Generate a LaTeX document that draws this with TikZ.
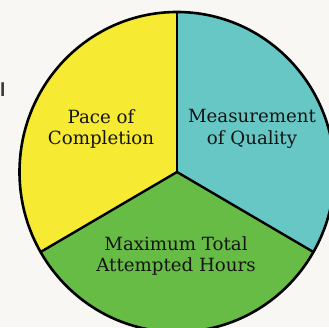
\documentclass[tikz,border=0pt]{standalone}
\usepackage{fontspec}
\setmainfont{DejaVu Serif}
\newfontfamily\sidefont{Liberation Sans}
\usetikzlibrary{positioning, calc}

\definecolor{paper}{RGB}{249,247,244}
\definecolor{paceyellow}{RGB}{246,234,50}
\definecolor{qualteal}{RGB}{103,199,197}
\definecolor{hourgreen}{RGB}{103,188,69}
\definecolor{ink}{RGB}{20,20,20}

\tikzset{
    rim/.style={line width=2.6pt, draw=black},
    spoke/.style={line width=2.4pt, draw=black, line cap=round},
    sectorlabel/.style={align=center, inner sep=0pt, text=ink,
        font=\fontsize{18.2}{21.5}\selectfont}
}

\begin{document}
\begin{tikzpicture}[x=1pt, y=1pt]
    \useasboundingbox (0,0) rectangle (329,327);
    \fill[paper] (0,0) rectangle (329,327);
    \clip (0,0) rectangle (329,327);

    \coordinate (ctr) at (177,155);
    \coordinate (top) at ($(ctr)+(90:157.5 and 160)$);
    \coordinate (lowleft) at ($(ctr)+(210:157.5 and 160)$);
    \coordinate (lowright) at ($(ctr)+(330:157.5 and 160)$);

    % the three slices
    \fill[paceyellow] (ctr) -- (top)
        arc[start angle=90, end angle=210, x radius=157.5, y radius=160] -- cycle;
    \fill[hourgreen] (ctr) -- (lowleft)
        arc[start angle=210, end angle=330, x radius=157.5, y radius=160] -- cycle;
    \fill[qualteal] (ctr) -- (lowright)
        arc[start angle=330, end angle=450, x radius=157.5, y radius=160] -- cycle;

    \draw[rim] (ctr) ellipse[x radius=157.5, y radius=160];
    \draw[spoke] (ctr) -- (top);
    \draw[spoke] (ctr) -- (lowleft);
    \draw[spoke] (ctr) -- (lowright);

    \node[sectorlabel] (pace) at (101,198) {Pace of\\Completion};
    \node[sectorlabel] (quality) at (252,198) {Measurement\\of Quality};
    \node[sectorlabel] (hours) at (176,71) {Maximum Total\\Attempted Hours};

    \node[anchor=base west, inner sep=0pt, text=ink!85,
        font=\sidefont\bfseries\fontsize{19}{21}\selectfont] (cut) at (0,230) {l};
\end{tikzpicture}
\end{document}
